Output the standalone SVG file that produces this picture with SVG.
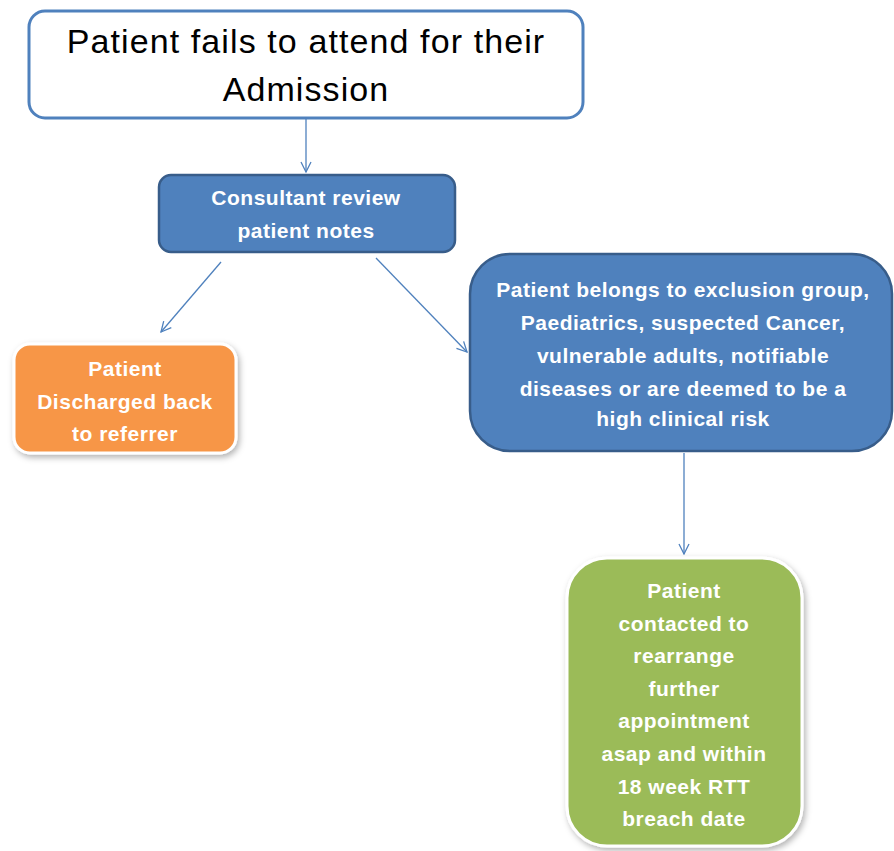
<svg xmlns="http://www.w3.org/2000/svg" width="894" height="851" viewBox="0 0 894 851">
<style>
.lbl{font-family:"Liberation Sans",Arial,sans-serif;font-weight:bold;font-size:21px;letter-spacing:0.5px;fill:#ffffff;text-anchor:middle}
.title{font-family:"Liberation Sans",Arial,sans-serif;font-size:34px;letter-spacing:1.1px;fill:#000000;text-anchor:middle}
.conn{stroke:#4f81bd;stroke-width:1.3;fill:none;marker-end:url(#arr)}
</style>
<defs>
<marker id="arr" viewBox="0 0 12 12" refX="11" refY="6" markerWidth="12" markerHeight="12" markerUnits="userSpaceOnUse" orient="auto">
<path d="M1,1 L11,6 L1,11" fill="none" stroke="#4f81bd" stroke-width="1.3"/>
</marker>
<filter id="sh" x="-10%" y="-10%" width="125%" height="125%">
<feDropShadow dx="2" dy="3" stdDeviation="3" flood-color="#000" flood-opacity="0.3"/>
</filter>
</defs>
<rect width="894" height="851" fill="#ffffff"/>
<g id="connectors">
<line class="conn" x1="306" y1="119" x2="306" y2="172"/>
<line class="conn" x1="221" y1="262" x2="161" y2="332"/>
<line class="conn" x1="376" y1="258" x2="467" y2="352"/>
<line class="conn" x1="684" y1="453" x2="684" y2="554"/>
</g>
<g id="start">
<rect x="29" y="11" width="554" height="107" rx="16" fill="#ffffff" stroke="#4f81bd" stroke-width="3"/>
<text class="title" x="306" y="53">Patient fails to attend for their</text>
<text class="title" x="306" y="101">Admission</text>
</g>
<g id="review">
<rect x="159" y="175" width="296" height="77" rx="12" fill="#4f81bd" stroke="#385d8a" stroke-width="2.5"/>
<text class="lbl" x="306" y="205">Consultant review</text>
<text class="lbl" x="306" y="238">patient notes</text>
</g>
<g id="discharged">
<rect x="14" y="344" width="222" height="109" rx="16" fill="#f79646" stroke="#ffffff" stroke-width="3" filter="url(#sh)"/>
<text class="lbl" x="125" y="376">Patient</text>
<text class="lbl" x="125" y="409">Discharged back</text>
<text class="lbl" x="125" y="441">to referrer</text>
</g>
<g id="exclusion">
<rect x="470" y="254" width="422" height="197" rx="40" fill="#4f81bd" stroke="#385d8a" stroke-width="2.5"/>
<text class="lbl" x="683" y="297">Patient belongs to exclusion group,</text>
<text class="lbl" x="683" y="330">Paediatrics, suspected Cancer,</text>
<text class="lbl" x="683" y="363">vulnerable adults, notifiable</text>
<text class="lbl" x="683" y="396">diseases or are deemed to be a</text>
<text class="lbl" x="683" y="426">high clinical risk</text>
</g>
<g id="contacted">
<rect x="567" y="558" width="235" height="288" rx="40" fill="#9bbb59" stroke="#ffffff" stroke-width="3" filter="url(#sh)"/>
<text class="lbl" x="684" y="598">Patient</text>
<text class="lbl" x="684" y="631">contacted to</text>
<text class="lbl" x="684" y="663">rearrange</text>
<text class="lbl" x="684" y="696">further</text>
<text class="lbl" x="684" y="728">appointment</text>
<text class="lbl" x="684" y="761">asap and within</text>
<text class="lbl" x="684" y="794">18 week RTT</text>
<text class="lbl" x="684" y="826">breach date</text>
</g>
</svg>
